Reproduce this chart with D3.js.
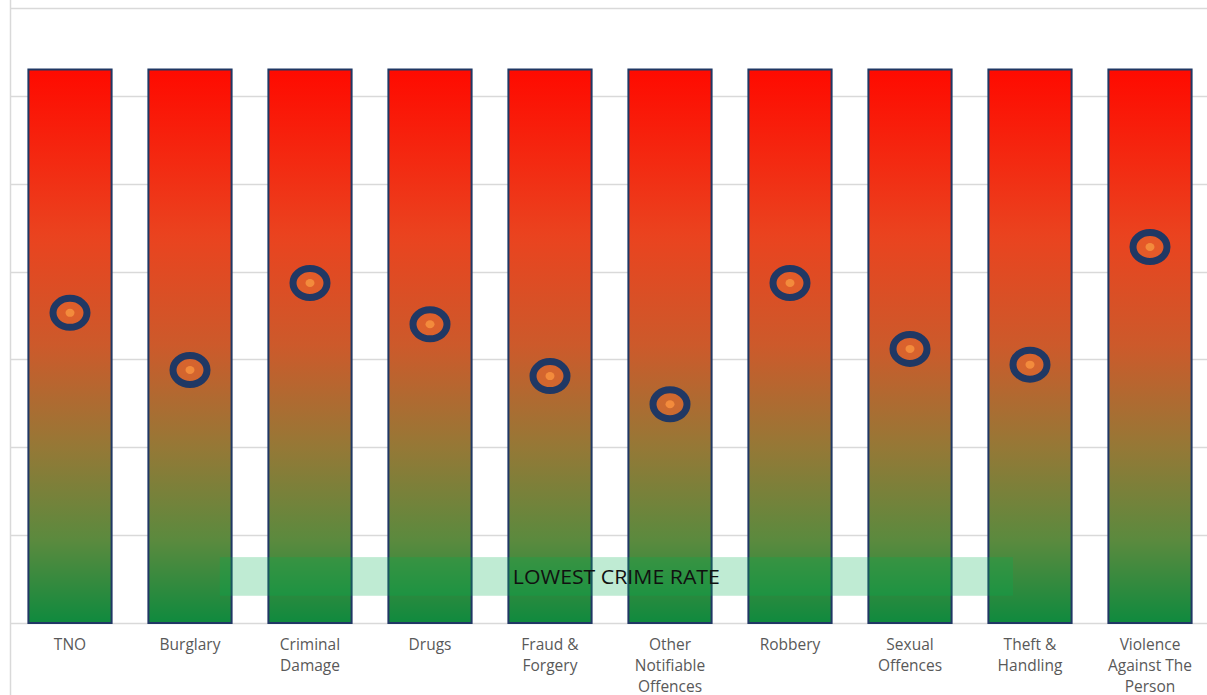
<!DOCTYPE html>
<html><head><meta charset="utf-8">
<script src="https://cdn.jsdelivr.net/npm/d3@7"></script>
<style>
html,body{margin:0;padding:0;background:#fff;}
svg{display:block;}
</style></head>
<body>
<svg id="chart" width="1207" height="695"></svg>
<script>
const categories = ["TNO","Burglary","Criminal Damage","Drugs","Fraud & Forgery","Other Notifiable Offences","Robbery","Sexual Offences","Theft & Handling","Violence Against The Person"];
const barValues = [6.3,6.3,6.3,6.3,6.3,6.3,6.3,6.3,6.3,6.3];
const rateValues = [3.53,2.88,3.87,3.40,2.81,2.49,3.87,3.12,2.94,4.28];
const yTicks = [0,1,2,3,4,5,6,7];
const bandLabel = "LOWEST CRIME RATE";
const bandRange = [0.31, 0.75];           // value range of the highlight band
const bandCats = ["Burglary","Theft & Handling"]; // band spans from/to these categories

const svg = d3.select("#chart");
const W = 1207, H = 695;
const x = d3.scaleBand().domain(categories).range([10, 1210]).paddingInner(0.29).paddingOuter(0.145);
const y = d3.scaleLinear().domain([0, 7]).range([623, 8]);

const defs = svg.append("defs");
const grad = defs.append("linearGradient").attr("id","g").attr("x1",0).attr("y1",0).attr("x2",0).attr("y2",1);
[[0,"#ff0a00"],[0.3,"#ea431f"],[0.5,"#cc5a2b"],[0.68,"#967836"],[0.85,"#5b8a3e"],[1,"#0f8a3e"]]
  .forEach(([o,c]) => grad.append("stop").attr("offset",o).attr("stop-color",c));

// gridlines
svg.append("g").selectAll("line").data(yTicks).join("line")
  .attr("x1",10).attr("x2",W).attr("y1",d=>Math.round(y(d))+0.5).attr("y2",d=>Math.round(y(d))+0.5)
  .attr("stroke","#d9d9d9").attr("stroke-width",1.5);
// left axis line
svg.append("line").attr("x1",10.5).attr("x2",10.5).attr("y1",0).attr("y2",H)
  .attr("stroke","#d9d9d9").attr("stroke-width",1.5);

// bars
svg.append("g").selectAll("rect").data(categories).join("rect")
  .attr("x",d=>x(d)+1).attr("width",x.bandwidth()-2)
  .attr("y",(d,i)=>y(barValues[i])).attr("height",(d,i)=>y(0)-y(barValues[i]))
  .attr("fill","url(#g)").attr("stroke","#203864").attr("stroke-width",2);

// highlight band
const bx0 = x(bandCats[0]) + x.bandwidth()*0.85;
const bx1 = x(bandCats[1]) + x.bandwidth()*0.3;
svg.append("rect").attr("x",bx0).attr("width",bx1-bx0)
  .attr("y",y(bandRange[1])).attr("height",y(bandRange[0])-y(bandRange[1]))
  .attr("fill","rgba(0,176,80,0.25)");
svg.append("text").attr("x",(bx0+bx1)/2).attr("y",(y(bandRange[0])+y(bandRange[1]))/2)
  .attr("text-anchor","middle").attr("dominant-baseline","central")
  .attr("font-family","Open Sans, sans-serif").attr("font-size",20).attr("fill","#111")
  .attr("textLength",207).attr("lengthAdjust","spacingAndGlyphs")
  .text(bandLabel);

// markers
const mk = svg.append("g").selectAll("g").data(categories).join("g")
  .attr("transform",(d,i)=>`translate(${x(d)+x.bandwidth()/2},${y(rateValues[i])})`);
mk.append("ellipse").attr("rx",17).attr("ry",14.5)
  .attr("fill","#e2682e").attr("fill-opacity",0.6)
  .attr("stroke","#203864").attr("stroke-width",7);
mk.append("ellipse").attr("rx",4.5).attr("ry",4).attr("fill","#f38b3c");

// category labels
const lab = svg.append("g").selectAll("text").data(categories).join("text")
  .attr("x",d=>x(d)+x.bandwidth()/2).attr("y",650)
  .attr("text-anchor","middle").attr("font-family","Open Sans, sans-serif")
  .attr("font-size",15.5).attr("fill","#595959");
lab.each(function(d){
  const t = d3.select(this), words = d.split(" "), maxW = 100;
  let line = [], tspan = t.append("tspan").attr("x",t.attr("x")).attr("dy",0);
  words.forEach(w => {
    line.push(w); tspan.text(line.join(" "));
    if (tspan.node().getComputedTextLength() > maxW && line.length > 1) {
      line.pop(); tspan.text(line.join(" ")); line = [w];
      tspan = t.append("tspan").attr("x",t.attr("x")).attr("dy",21).text(w);
    }
  });
});
</script>
</body></html>
